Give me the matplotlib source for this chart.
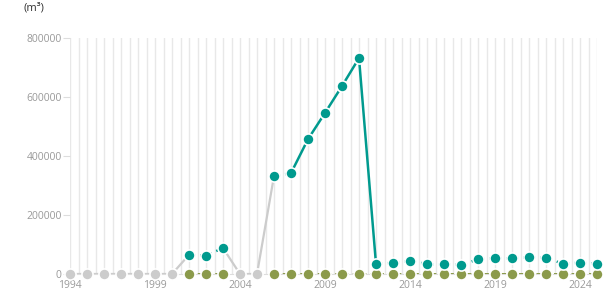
import numpy as np
import matplotlib
matplotlib.use("Agg")
import matplotlib.pyplot as plt

# --- DATA ---
years = list(range(1994, 2026))
nan = np.nan
# volume in m3 (NaN = no data, drawn grey at 0)
volume = [nan, nan, nan, nan, nan, nan, nan,
          65000, 62000, 88000, nan, nan,
          332000, 342000, 457000, 546000, 637000, 732000,
          34000, 38000, 44000, 34000, 34000, 30000, 50000, 54000,
          53000, 57000, 54000, 35000, 38000, 35000]
# second series (all zero where reported)
volume2 = [nan, nan, nan, nan, nan, nan, nan,
           0, 0, 0, nan, nan] + [0] * 20
# segment starting at this point drawn dashed
estimated = [0, 0, 0, 0, 0, 0, 0,
             1, 1, 1, 0, 0,
             1, 0, 0, 0, 0, 0] + [1] * 14

yticks = [0, 200000, 400000, 600000, 800000]
xticks = [1994, 1999, 2004, 2009, 2014, 2019, 2024]

TEAL = "#009a8e"
OLIVE = "#8b9a4b"
GREY = "#cccccc"

plt.rcParams["font.family"] = ["Open Sans", "DejaVu Sans"]

fig = plt.figure(figsize=(6.15, 3.05), dpi=100)
ax = fig.add_axes([70 / 615, 1 - 274 / 305, 527 / 615, 236 / 305])

# vertical grid every half year
for gx in np.arange(1994, 2025.01, 0.5):
    ax.axvline(gx, color="#e8e8e8", lw=1, zorder=0)

mk = dict(marker="o", ms=8, mew=1.2, mec="white", clip_on=False)
dash = (0, (2.5, 2))

# grey line for missing points (drawn at 0)
v = np.array(volume, dtype=float)
for i in range(len(years) - 1):
    a, b = v[i], v[i + 1]
    if np.isnan(a) or np.isnan(b):
        ax.plot(years[i:i + 2], [0 if np.isnan(a) else a, 0 if np.isnan(b) else b],
                color=GREY, lw=1.6, zorder=2, solid_capstyle="butt")

# second series
v2 = np.array(volume2, dtype=float)
ax.plot(years, v2, color=OLIVE, lw=1.4, ls=dash, zorder=3)
ax.plot(years, v2, ls="none", color=OLIVE, zorder=5, **mk)

# main series
for i in range(len(years) - 1):
    a, b = v[i], v[i + 1]
    if np.isnan(a) or np.isnan(b):
        continue
    ls = dash if estimated[i] else "-"
    ax.plot(years[i:i + 2], [a, b], color=TEAL, lw=1.8, ls=ls, zorder=4,
            solid_capstyle="butt")
ax.plot(years, v, ls="none", color=TEAL, zorder=6, **mk)

# grey markers for missing points
miss = [y for y, a in zip(years, volume) if np.isnan(a)]
ax.plot(miss, [0] * len(miss), ls="none", color=GREY, zorder=6, **mk)

ax.set_xlim(1994, 2025)
ax.set_ylim(0, 800000)
ax.set_yticks(yticks)
ax.set_yticklabels([str(t) for t in yticks])
ax.set_xticks(xticks)
ax.set_xticklabels([str(t) for t in xticks])
for s in ["top", "right", "left"]:
    ax.spines[s].set_visible(False)
ax.spines["bottom"].set_color("#dddddd")
ax.tick_params(axis="y", length=5, color="#dddddd", labelcolor="#999999",
               labelsize=7.5, pad=1)
ax.tick_params(axis="x", length=0, labelcolor="#999999", labelsize=7.5, pad=4)

fig.text(24 / 615, 1 - 8 / 305, "(m³)", fontsize=8, color="#333333",
         va="center", ha="left")

fig.savefig("out.png", dpi=100)
